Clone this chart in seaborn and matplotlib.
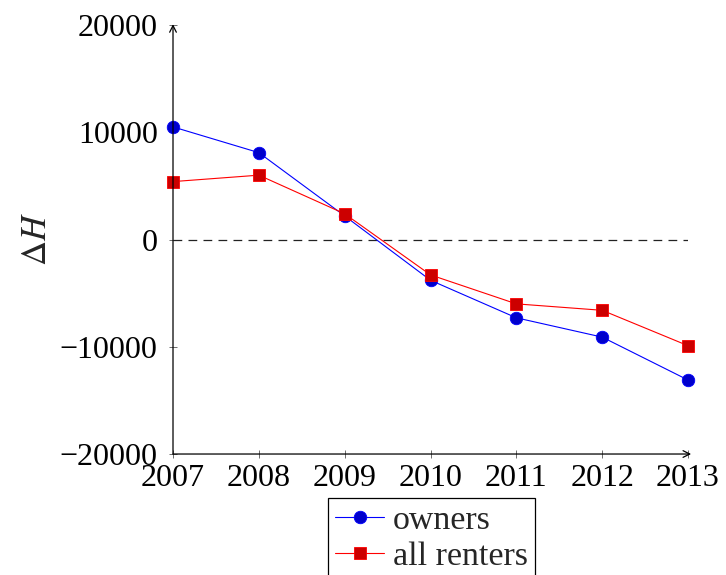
import matplotlib
matplotlib.use("Agg")
import matplotlib.pyplot as plt
import seaborn as sns
import pandas as pd

years = [2007, 2008, 2009, 2010, 2011, 2012, 2013]
owners = [10500, 8100, 2200, -3800, -7300, -9100, -13100]
all_renters = [5400, 6000, 2400, -3300, -6000, -6600, -9900]
y_ticks = [-20000, -10000, 0, 10000, 20000]

sns.set_theme(style="white")
plt.rcParams["font.family"] = ["Liberation Serif", "DejaVu Serif"]
plt.rcParams["mathtext.fontset"] = "stix"

fig = plt.figure(figsize=(7.26, 5.75), dpi=100)
ax = fig.add_axes([0.2383, 0.2104, 0.7094, 0.7461])

df = pd.DataFrame({"year": years, "owners": owners, "all renters": all_renters})

sns.lineplot(data=df, x="year", y="owners", ax=ax, color="blue", linewidth=0.8,
             marker="o", markersize=9, markerfacecolor="#0000cc",
             markeredgecolor="blue", markeredgewidth=0.6, label="owners", clip_on=False)
sns.lineplot(data=df, x="year", y="all renters", ax=ax, color="red", linewidth=0.8,
             marker="s", markersize=8.5, markerfacecolor="#cc0000",
             markeredgecolor="red", markeredgewidth=0.6, label="all renters", clip_on=False)

ax.axhline(0, color="#222222", linewidth=0.9, linestyle=(0, (7, 5)), zorder=1)

ax.set_xlim(2007, 2013)
ax.set_ylim(-20000, 20000)
ax.set_xticks(years)
ax.set_xticklabels([str(y) for y in years])
ax.set_yticks(y_ticks)
ax.set_yticklabels([f"{v}".replace("-", "\u2212") for v in y_ticks])
ax.tick_params(axis="both", direction="inout", length=6, width=0.6, color="#555555",
               labelsize=23, labelcolor="black", left=True, bottom=True)
ax.tick_params(axis="y", pad=8)
ax.tick_params(axis="x", pad=4)
ax.set_xlabel("")
ax.set_ylabel(r"$\Delta H$", fontsize=25, labelpad=4)

for s in ax.spines.values():
    s.set_visible(False)

# axis lines with arrow heads
arrow = dict(arrowstyle="->", color="black", lw=0.9, shrinkA=0, shrinkB=0,
             mutation_scale=12)
ax.annotate("", xy=(1.006, 0), xytext=(0, 0), xycoords="axes fraction",
            textcoords="axes fraction", arrowprops=arrow, annotation_clip=False)
ax.annotate("", xy=(0, 1.002), xytext=(0, 0), xycoords="axes fraction",
            textcoords="axes fraction", arrowprops=arrow, annotation_clip=False)

leg = ax.legend(loc="upper center", bbox_to_anchor=(0.502, -0.1026), fontsize=24.5,
                frameon=True, fancybox=False, edgecolor="black", framealpha=1,
                borderpad=0.22, labelspacing=0.13, handlelength=1.45,
                handletextpad=0.25, borderaxespad=0)
leg.get_frame().set_linewidth(0.9)

fig.savefig("out.png", dpi=100)
